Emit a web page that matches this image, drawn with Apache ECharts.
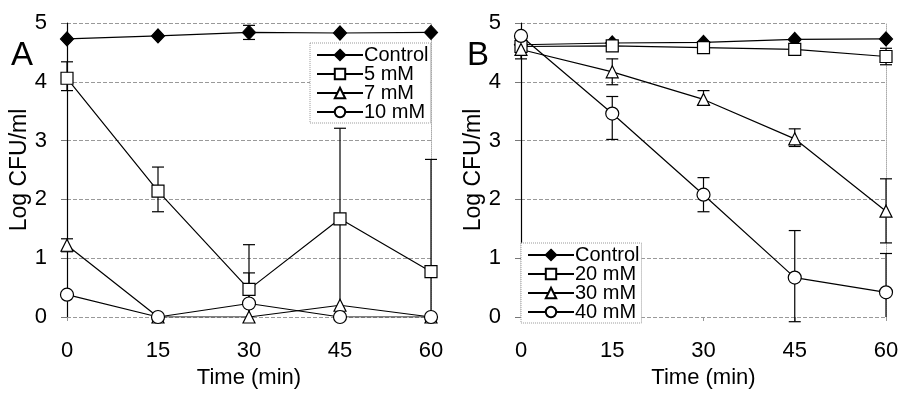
<!DOCTYPE html>
<html><head><meta charset="utf-8">
<script src="https://cdn.jsdelivr.net/npm/echarts@6/dist/echarts.min.js"></script>
<style>html,body{margin:0;padding:0;background:#fff}#c{width:902px;height:394px}</style>
</head><body><div id="c"></div>
<script>
// ---- data ----
const times = [0, 15, 30, 45, 60];
const yTicks = [0, 1, 2, 3, 4, 5];

// Panel A
const namesA = ['Control', '5 mM', '7 mM', '10 mM'];
const controlA = [4.73, 4.78, 4.84, 4.83, 4.84];
const mM5 = [4.06, 2.14, 0.47, 1.67, 0.77];
const mM7 = [1.22, 0, 0, 0.20, 0];
const mM10 = [0.38, 0, 0.23, 0, 0];
// error bars: [low, high] or null
const errControlA = [null, null, [4.72, 4.96], null, null];
const err5 = [[3.85, 4.34], [1.79, 2.55], [0, 1.23], [0, 3.21], [0, 2.68]];
const err7 = [[1.11, 1.33], null, null, null, null];
const err10 = [null, null, [0, 0.75], null, null];

// Panel B
const namesB = ['Control', '20 mM', '30 mM', '40 mM'];
const controlB = [4.63, 4.66, 4.67, 4.72, 4.73];
const mM20 = [4.60, 4.61, 4.58, 4.55, 4.43];
const mM30 = [4.55, 4.17, 3.70, 3.03, 1.80];
const mM40 = [4.78, 3.46, 2.08, 0.67, 0.42];
const errControlB = [null, null, null, null, null];
const err20 = [null, null, null, null, [4.29, 4.57]];
const err30 = [[4.39, 4.70], [3.95, 4.39], [3.61, 3.85], [2.90, 3.20], [1.26, 2.35]];
const err40 = [null, [3.02, 3.75], [1.79, 2.37], [-0.08, 1.47], [0, 1.08]];

// ---- build ----
const FONT = 'Liberation Sans, Arial, sans-serif';
const pts = v => times.map((t, i) => [t, v[i]]);
const errPts = e => times.map((t, i) => e[i] ? [t, e[i][0], e[i][1]] : null).filter(d => d);

const symbols = {
  'Control': {symbol: 'diamond', size: [13, 14], fill: '#000'},
  'sq': {symbol: 'rect', size: 12, fill: '#fff'},
  'tri': {symbol: 'triangle', size: 12, fill: '#fff'},
  'circ': {symbol: 'circle', size: 13, fill: '#fff'}
};
const kinds = ['Control', 'sq', 'tri', 'circ'];

function lineSeries(name, vals, idx, k) {
  const s = symbols[k];
  return {
    type: 'line', name: name, data: pts(vals), xAxisIndex: idx, yAxisIndex: idx,
    symbol: s.symbol, symbolSize: s.size, showAllSymbol: true,
    lineStyle: {color: '#000', width: 1.2},
    itemStyle: {color: s.fill, borderColor: '#000', borderWidth: 1.2},
    z: 3, animation: false
  };
}
function errSeries(e, idx) {
  return {
    type: 'custom', xAxisIndex: idx, yAxisIndex: idx, data: errPts(e), z: 2, animation: false,
    silent: true,
    renderItem: function (params, api) {
      const x = api.value(0), lo = api.value(1), hi = api.value(2);
      const p1 = api.coord([x, lo]), p2 = api.coord([x, hi]);
      const w = 6;
      const children = [{type: 'line', shape: {x1: p1[0], y1: p1[1], x2: p2[0], y2: p2[1]}, style: {stroke: '#000', lineWidth: 1.2}}];
      if (hi !== 0) children.push({type: 'line', shape: {x1: p2[0] - w, y1: p2[1], x2: p2[0] + w, y2: p2[1]}, style: {stroke: '#000', lineWidth: 1.2}});
      if (lo !== 0) children.push({type: 'line', shape: {x1: p1[0] - w, y1: p1[1], x2: p1[0] + w, y2: p1[1]}, style: {stroke: '#000', lineWidth: 1.2}});
      return {type: 'group', children: children};
    }
  };
}

function xAxis(idx) {
  return {
    type: 'value', gridIndex: idx, min: 0, max: 60, interval: 15,
    name: 'Time (min)', nameLocation: 'middle', nameGap: 50,
    nameTextStyle: {fontSize: 22, color: '#000', fontFamily: FONT},
    axisLine: {show: false},
    axisTick: {show: true, length: 4, lineStyle: {color: '#999'}},
    axisLabel: {fontSize: 22, color: '#000', fontFamily: FONT, margin: 23},
    splitLine: {show: false}
  };
}
function yAxis(idx) {
  return {
    type: 'value', gridIndex: idx, min: yTicks[0], max: yTicks[yTicks.length - 1], interval: 1,
    name: 'Log CFU/ml', nameLocation: 'middle', nameGap: 34,
    nameTextStyle: {fontSize: 23, color: '#000', fontFamily: FONT},
    axisLine: {show: true, lineStyle: {color: '#000', width: 1.2}},
    axisTick: {show: true, length: 6, lineStyle: {color: '#777'}},
    axisLabel: {fontSize: 22, color: '#000', fontFamily: FONT, margin: 20},
    splitLine: {show: true, lineStyle: {color: '#999', type: 'dashed', width: 1}}
  };
}
function yRight(idx) {
  return {
    type: 'value', gridIndex: idx, min: 0, max: 5, position: 'right',
    axisLine: {show: true, onZero: false, lineStyle: {color: '#aaa', type: 'dotted', width: 1}},
    axisTick: {show: false}, axisLabel: {show: false}, splitLine: {show: false}
  };
}

const valsA = [controlA, mM5, mM7, mM10];
const errsA = [errControlA, err5, err7, err10];
const valsB = [controlB, mM20, mM30, mM40];
const errsB = [errControlB, err20, err30, err40];

const series = [];
errsA.forEach(e => series.push(errSeries(e, 0)));
errsB.forEach(e => series.push(errSeries(e, 1)));
namesA.forEach((n, i) => series.push(lineSeries(n, valsA[i], 0, kinds[i])));
namesB.forEach((n, i) => series.push(lineSeries(n, valsB[i], 1, kinds[i])));

const legendCommon = {
  orient: 'vertical', itemWidth: 46, itemHeight: 13, itemGap: -1,
  borderColor: '#999', borderWidth: 1, borderType: 'dotted', padding: [2, 2, 1, 6],
  textStyle: {fontSize: 20, color: '#000', fontFamily: FONT, padding: [0, 0, 0, -4]},
  backgroundColor: '#fff'
};

const option = {
  backgroundColor: '#fff',
  animation: false,
  textStyle: {fontFamily: FONT},
  grid: [
    {left: 67, top: 23, width: 364, height: 299},
    {left: 521, top: 23, width: 365, height: 299}
  ],
  xAxis: [xAxis(0), xAxis(1)],
  yAxis: [yAxis(0), yAxis(1), yRight(0), yRight(1)],
  legend: [
    Object.assign({}, legendCommon, {data: namesA, left: 310, top: 43}),
    Object.assign({}, legendCommon, {data: namesB, left: 521, top: 243})
  ],
  graphic: [
    {type: 'text', left: 11, top: 39, style: {text: 'A', fontSize: 33, fill: '#000', fontFamily: FONT}},
    {type: 'text', left: 467, top: 39, style: {text: 'B', fontSize: 33, fill: '#000', fontFamily: FONT}}
  ],
  series: series
};
const chart = echarts.init(document.getElementById('c'), null, {renderer: 'canvas'});
chart.setOption(option);
</script></body></html>
